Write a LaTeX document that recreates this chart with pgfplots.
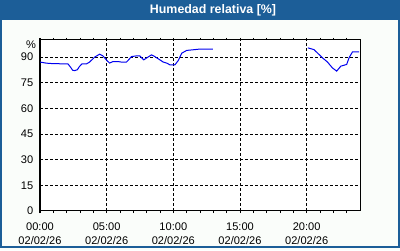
\documentclass[border=0pt]{standalone}
\usepackage{pgfplots}
\pgfplotsset{compat=1.18}
\usepackage{fontspec}
\setmainfont{Liberation Sans}
\definecolor{frameblue}{HTML}{1C5E98}
\definecolor{bgc}{HTML}{FAFDFA}
\definecolor{lineblue}{HTML}{0000F0}
\begin{document}
\begin{tikzpicture}[x=0.75pt,y=0.75pt]
\useasboundingbox (0,0) rectangle (400,250);
\fill[bgc] (0,0) rectangle (400,250);
\fill[frameblue] (0,229.5) rectangle (400,250);
\draw[frameblue,line width=1.5pt] (1,250) -- (1,3) -- (398.5,3) -- (398.5,250);
\node[white,font=\bfseries\fontsize{9.3}{11}\selectfont] at (213,239.5) {Humedad relativa [\%]};
\node[font=\fontsize{8.3}{10}\selectfont] at (31,205) {\%};
\begin{axis}[
  at={(30pt,29.25pt)}, anchor=south west,
  scale only axis, width=240pt, height=128.25pt,
  xmin=0, xmax=24, ymin=0, ymax=100,
  axis background/.style={fill=white},
  axis line style={black,line width=0.75pt},
  xtick={0,5,10,15,20},
  minor xtick={1,2,3,4,6,7,8,9,11,12,13,14,16,17,18,19,21,22,23},
  xticklabels={{00:00\\02/02/26},{05:00\\02/02/26},{10:00\\02/02/26},{15:00\\02/02/26},{20:00\\02/02/26}},
  ytick={0,15,30,45,60,75,90},
  grid=major,
  major grid style={black,line width=0.75pt,dash pattern=on 2.25pt off 1.5pt},
  tick align=outside,
  major tick length=1.5pt, minor tick length=1.5pt,
  xtick style={black,line width=0.75pt},
  ytick style={draw=none},
  tick label style={font=\fontsize{8.3}{11}\selectfont},
  xticklabel style={align=center,yshift=-3.5pt},
  /pgf/number format/assume math mode=true,
  ]
\addplot[lineblue,line width=0.75pt] coordinates {
(0.0,87.1) (0.45,86.5) (0.7,86.3) (1.0,86.2) (1.5,86.1) (2.1,86.0) (2.3,84.0)
(2.45,82.3) (2.6,82.1) (2.8,82.6) (2.96,84.5) (3.16,86.1) (3.5,86.1) (3.72,87.1)
(4.1,90.0) (4.47,91.7) (4.72,90.7) (5.02,88.0) (5.22,86.5) (5.47,87.4) (5.85,87.4)
(6.1,87.1) (6.48,87.1) (6.6,88.0) (6.86,90.3) (7.23,90.7) (7.48,90.7) (7.78,88.4)
(8.1,90.0) (8.36,91.3) (8.61,90.3) (8.99,88.4) (9.24,87.1) (9.5,86.5) (9.74,85.5)
(10.12,85.5) (10.37,88.0) (10.63,92.3) (11.0,93.9) (11.5,94.3) (12.0,94.7) (12.96,94.7)
};
\addplot[lineblue,line width=0.75pt] coordinates {
(20.09,95.4) (20.54,94.4) (20.8,92.5) (21.18,89.6) (21.55,87.2) (21.93,83.7)
(22.25,81.8) (22.56,84.7) (23.0,85.7) (23.18,89.6) (23.44,93.1) (23.93,93.1)
};
\end{axis}
\end{tikzpicture}
\end{document}
